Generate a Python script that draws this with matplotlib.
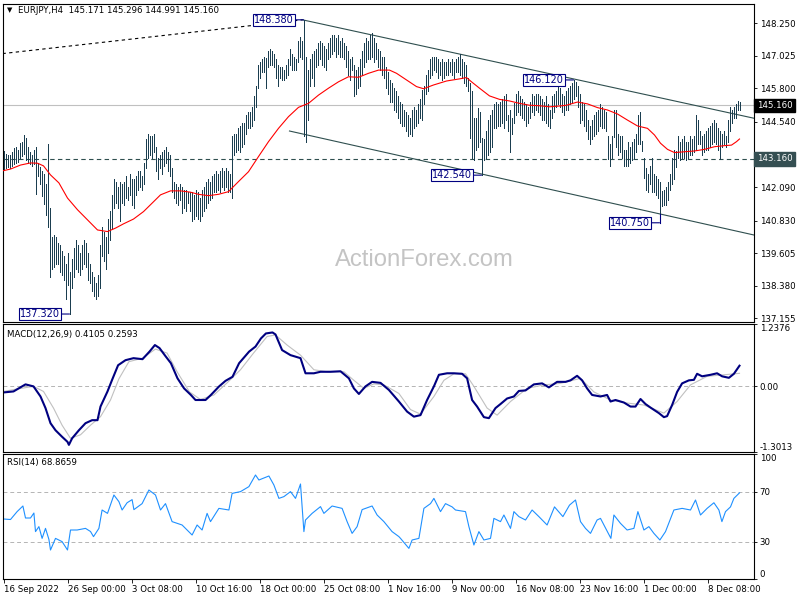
import matplotlib
matplotlib.use('Agg')
import matplotlib.pyplot as plt
import matplotlib.transforms as mtransforms

plt.rcParams['font.family'] = ['DejaVu Sans']

symbol = 'EURJPY,H4'
last_ohlc = ['145.171', '145.296', '144.991', '145.160']

# H4 bar highs / lows, one per bar
hi = [
    143.45, 143.35, 143.30, 143.30, 143.40, 143.55, 143.60, 143.50, 143.75, 143.80,
    144.05, 143.95, 143.60, 143.40, 143.30, 143.50, 143.60, 143.00, 142.85, 142.70,
    142.60, 142.20, 143.70, 141.30, 140.20, 140.30, 140.20, 140.00, 139.90, 139.70,
    139.50, 139.20, 139.60, 138.90, 139.40, 139.80, 140.10, 139.90, 139.60, 139.90,
    140.10, 140.00, 139.60, 139.20, 138.90, 138.70, 138.50, 138.80, 139.90, 140.60,
    140.40, 140.20, 140.90, 141.20, 141.80, 142.40, 142.30, 142.10, 142.30, 142.20,
    142.30, 142.50, 142.10, 142.60, 142.40, 142.40, 142.50, 142.70, 142.70, 142.50,
    143.00, 143.90, 144.10, 144.00, 144.00, 144.10, 143.60, 143.20, 143.30, 143.40,
    143.50, 143.60, 143.40, 143.30, 142.80, 142.30, 142.20, 142.10, 142.20, 142.10,
    142.00, 142.00, 141.90, 141.90, 141.90, 141.80, 142.00, 141.90, 141.70, 142.00,
    142.10, 142.30, 142.40, 142.30, 142.50, 142.60, 142.70, 142.60, 142.70, 142.80,
    142.70, 142.80, 142.70, 142.60, 144.00, 144.10, 144.10, 144.30, 144.40, 144.50,
    144.50, 144.80, 144.90, 144.90, 145.10, 145.50, 145.90, 146.70, 146.80, 146.90,
    147.00, 146.95, 147.20, 147.30, 147.20, 147.10, 146.90, 146.70, 146.60, 146.60,
    146.50, 146.70, 146.90, 147.30, 147.10, 147.00, 146.90, 147.60, 147.75, 147.60,
    148.38, 147.00, 146.50, 146.90, 147.10, 147.20, 147.30, 147.50, 147.60, 147.50,
    147.40, 147.30, 147.50, 147.70, 147.80, 147.80, 147.70, 147.80, 147.60, 147.70,
    147.50, 147.40, 147.20, 146.90, 147.00, 146.70, 146.50, 146.60, 146.90, 147.20,
    147.50, 147.70, 147.60, 147.80, 147.90, 147.70, 147.50, 147.30, 147.20, 147.00,
    147.00, 146.60, 146.40, 146.10, 146.00, 145.80, 145.70, 145.50, 145.30, 145.20,
    145.00, 144.90, 144.80, 144.70, 145.00, 145.10, 145.00, 145.20, 145.40, 145.75,
    145.90, 146.30, 146.50, 146.90, 147.00, 147.00, 147.00, 146.90, 146.80, 146.90,
    146.80, 146.80, 146.90, 146.80, 146.90, 146.80, 146.90, 147.00, 147.10, 146.90,
    146.80, 146.70, 146.20, 146.00, 145.70, 144.70, 144.70, 145.05, 144.90, 143.95,
    143.90, 144.20, 144.60, 144.80, 145.00, 145.20, 145.30, 145.20, 145.30, 145.40,
    145.50, 145.60, 144.80, 145.00, 144.70, 145.24, 145.60, 145.70, 145.50, 145.40,
    145.30, 145.20, 145.10, 145.30, 145.60, 145.50, 145.60, 145.60, 145.50, 145.40,
    145.30, 145.50, 145.20, 145.00, 145.50, 145.60, 145.70, 145.90, 145.80, 145.60,
    145.50, 145.70, 145.80, 145.90, 146.00, 146.12, 146.05, 145.90, 145.60, 145.30,
    145.20, 145.00, 144.60, 144.40, 144.60, 144.80, 144.90, 145.00, 145.20, 145.10,
    145.00, 144.90, 144.00, 143.70, 144.00, 145.00, 145.00, 144.10, 144.00, 144.00,
    143.50, 143.50, 143.80, 143.60, 143.80, 143.90, 144.10, 144.80, 144.90, 143.84,
    143.20, 142.80, 142.60, 142.90, 143.20, 142.60, 142.50, 142.40, 142.30, 141.95,
    142.00, 142.10, 142.30, 142.60, 143.20, 143.50, 143.46, 144.00, 143.80, 143.90,
    144.00, 143.80, 143.80, 144.00, 143.90, 144.00, 144.80, 144.60, 144.20, 144.00,
    144.10, 144.20, 144.30, 144.40, 144.50, 144.60, 144.50, 144.30, 144.20, 144.10,
    144.20, 144.00, 144.60, 145.10, 145.00, 145.10, 145.20, 145.33, 145.296,
]
lo = [
    142.75, 142.80, 142.85, 142.80, 142.90, 142.95, 143.00, 143.05, 143.20, 143.25,
    143.35, 143.10, 143.00, 142.95, 142.90, 142.95, 141.85, 142.50, 142.20, 141.75,
    141.45, 141.05, 140.60, 138.70, 139.00, 139.10, 139.20, 139.20, 138.90, 138.80,
    138.60, 137.90, 138.40, 137.32, 138.30, 138.70, 139.00, 138.90, 138.80, 139.00,
    139.20, 139.10, 138.60, 138.50, 138.20, 138.00, 137.90, 138.00, 138.30, 139.50,
    139.30, 139.00, 139.60, 140.10, 140.50, 141.30, 141.50, 141.30, 140.80, 141.50,
    141.40, 141.70, 141.60, 141.80, 141.40, 141.30, 141.80, 142.00, 142.10, 142.00,
    142.20, 142.80, 143.20, 143.30, 143.20, 143.40, 142.70, 142.40, 142.80, 142.60,
    142.90, 143.00, 142.70, 142.50, 141.90, 141.70, 141.50, 141.40, 141.60, 141.10,
    141.30, 141.20, 141.50, 141.20, 140.80, 140.90, 141.00, 140.90, 140.80, 141.00,
    141.20, 141.30, 141.50, 141.60, 141.70, 141.90, 141.90, 142.00, 141.90, 142.10,
    142.00, 142.10, 141.90, 141.90, 141.70, 143.30, 143.40, 143.50, 143.40, 143.60,
    143.70, 144.10, 144.30, 144.30, 144.40, 144.60, 145.10, 145.80, 146.20, 146.40,
    146.40, 145.80, 146.60, 146.70, 146.70, 146.60, 146.20, 145.90, 146.20, 146.10,
    146.10, 146.20, 146.30, 146.70, 146.50, 146.50, 146.50, 146.80, 147.00, 146.90,
    144.00, 143.80, 144.60, 145.90, 146.20, 145.90, 146.60, 146.70, 146.90, 146.70,
    146.60, 146.50, 146.90, 147.00, 147.10, 147.20, 147.00, 147.10, 147.00, 147.00,
    146.90, 146.60, 146.30, 146.10, 146.50, 145.50, 145.60, 145.80, 145.90, 146.30,
    146.60, 146.80, 146.90, 146.90, 147.00, 146.80, 146.90, 146.60, 146.50, 146.30,
    146.20, 145.80, 145.60, 145.30, 145.30, 145.00, 144.90, 144.70, 144.50, 144.40,
    144.40, 144.20, 144.00, 144.10, 144.00, 144.30, 144.40, 144.50, 144.70, 144.60,
    145.20, 145.60, 145.70, 146.20, 146.30, 146.50, 146.40, 146.20, 146.30, 146.10,
    146.20, 146.30, 146.30, 146.40, 146.30, 146.20, 146.40, 146.40, 146.30, 146.20,
    146.00, 145.90, 145.70, 143.95, 143.20, 143.10, 143.50, 143.60, 143.80, 142.54,
    143.10, 143.20, 143.30, 143.40, 143.60, 144.30, 144.30, 144.40, 144.40, 144.50,
    144.30, 144.60, 144.20, 143.40, 144.10, 144.50, 144.80, 144.90, 144.80, 144.70,
    144.60, 144.40, 144.50, 144.70, 144.90, 144.80, 145.00, 144.90, 144.80, 144.60,
    144.60, 144.50, 144.40, 144.30, 144.70, 144.90, 145.10, 145.20, 145.10, 144.90,
    144.80, 145.00, 145.00, 145.20, 145.30, 145.40, 145.50, 145.10, 144.50, 144.60,
    144.40, 144.20, 143.90, 143.70, 143.90, 144.00, 144.10, 144.20, 144.40, 144.30,
    144.30, 144.20, 143.16, 142.90, 143.20, 143.96, 143.60, 143.30, 143.40, 143.20,
    142.90, 142.90, 142.90, 143.00, 143.10, 143.20, 143.40, 143.70, 143.70, 143.46,
    142.43, 142.00, 141.90, 142.20, 141.90, 141.90, 141.80, 141.70, 141.08, 141.38,
    141.40, 141.40, 141.60, 142.00, 142.20, 142.40, 142.83, 143.20, 143.10, 143.20,
    143.20, 143.10, 143.20, 143.30, 143.30, 143.40, 143.50, 143.70, 143.70, 143.30,
    143.40, 143.50, 143.50, 143.60, 143.70, 143.80, 143.70, 143.50, 143.15, 143.60,
    143.70, 143.60, 143.80, 144.20, 144.50, 144.70, 144.70, 144.98, 144.991,
]

# moving average (red line)
ma_idx = [0, 3.5, 8.5, 13.5, 17, 20, 23.5, 27.7, 32, 37, 42, 47, 52, 56, 60, 65, 70, 75,
          78.5, 83.5, 88.5, 93.5, 97.5, 102.5, 107.5, 112.5, 117.5, 122.5, 127.5, 132.5,
          137.5, 142.5, 147.5, 152.5, 157.5, 162.5, 167.5, 172.5, 177.5, 182.5, 187.5,
          193, 196.5, 201.5, 206.5, 210, 215, 221.5, 228, 231.5, 234, 238, 243, 248, 253,
          258, 263, 268, 273, 278, 281.5, 287, 292, 297, 302, 307, 312, 317, 322, 325.5,
          328.5, 332, 335.5, 340.5, 345.5, 350.5, 355.5, 360.5, 364, 366.5, 368]
ma_val = [142.71, 142.77, 142.92, 143.00, 142.99, 142.89, 142.55, 142.25, 141.68, 141.24,
          140.86, 140.48, 140.42, 140.55, 140.71, 140.89, 141.17, 141.54, 141.80, 141.95,
          141.95, 141.90, 141.82, 141.77, 141.82, 141.92, 142.30, 142.67, 143.24, 143.80,
          144.30, 144.74, 145.09, 145.24, 145.55, 145.81, 146.05, 146.24, 146.22, 146.37,
          146.49, 146.49, 146.37, 146.12, 145.87, 145.79, 145.93, 146.08, 146.16, 146.21,
          146.05, 145.81, 145.52, 145.39, 145.33, 145.24, 145.17, 145.15, 145.11, 145.14,
          145.17, 145.29, 145.22, 145.08, 144.99, 144.84, 144.61, 144.39, 144.30, 144.05,
          143.74, 143.51, 143.39, 143.42, 143.45, 143.51, 143.61, 143.65, 143.67, 143.80,
          143.90]

# trend lines (bar index, price)
dotted_idx = [-0.5, 149.5]
dotted_px = [147.11, 148.38]
upper_idx = [149.5, 375.25]
upper_px = [148.38, 144.68]
lower_idx = [143, 375.25]
lower_px = [144.20, 140.29]
support_level = 143.160
last_price = 145.160

mark_idx = [150, 285, 239, 328, 33]
mark_px = [148.38, 146.12, 142.54, 140.75, 137.32]
mark_txt = ['148.380', '146.120', '142.540', '140.750', '137.320']

price_ticks = [148.250, 147.025, 145.800, 144.540, 142.090, 140.830, 139.605, 138.380, 137.155]

# MACD main / signal
macd_idx = [0, 5, 11, 15, 18.5, 21, 23.5, 26, 29.3, 32, 32.7, 34.3, 37.7, 41, 44.3, 47, 48.5,
            52, 54.3, 57.3, 61, 65, 69.5, 73, 75.7, 78, 81, 83.7, 87, 90.3, 93.7, 96, 101,
            103.7, 107.8, 111, 114.5, 117.8, 122.8, 126, 128.7, 131.2, 134.5, 136, 139.3,
            143.5, 148.5, 151, 155.2, 158.5, 163.5, 168.5, 172.7, 175.2, 177.7, 181, 184.3,
            188.5, 192.7, 197.7, 201.8, 205.2, 208.5, 211.8, 215.2, 217.7, 221.8, 225.2,
            229.3, 231.8, 234.3, 236.8, 240.2, 242.7, 246, 248.5, 251.8, 255.2, 257.7, 261,
            265.2, 269.3, 272.7, 276.8, 281, 283.5, 286.8, 289.3, 291.8, 294.3, 298.5,
            301.8, 303.5, 306, 310.2, 313.5, 316, 318.5, 321, 323.5, 327.7, 330.2, 331.8,
            334.3, 336.8, 339.3, 342.7, 345.2, 346.8, 349.3, 353.5, 356.8, 359.3, 362.7,
            365.2, 368]
macd_val = [-0.12, -0.10, 0.04, 0.00, -0.20, -0.43, -0.73, -0.87, -1.00, -1.10, -1.16, -1.03,
            -0.87, -0.73, -0.67, -0.67, -0.40, -0.10, 0.13, 0.42, 0.52, 0.56, 0.54, 0.69,
            0.82, 0.76, 0.60, 0.46, 0.16, -0.04, -0.17, -0.27, -0.27, -0.17, 0.00, 0.11,
            0.19, 0.46, 0.69, 0.79, 0.95, 1.05, 1.07, 1.03, 0.72, 0.62, 0.56, 0.26, 0.26,
            0.29, 0.29, 0.30, 0.16, -0.04, -0.15, 0.00, 0.09, 0.07, -0.07, -0.30, -0.50,
            -0.60, -0.57, -0.27, 0.00, 0.23, 0.26, 0.26, 0.25, 0.16, -0.27, -0.40, -0.61,
            -0.63, -0.43, -0.35, -0.24, -0.20, -0.09, -0.08, 0.04, 0.06, -0.02, 0.09, 0.09,
            0.12, 0.21, 0.12, -0.04, -0.17, -0.20, -0.17, -0.30, -0.27, -0.32, -0.40, -0.40,
            -0.25, -0.35, -0.42, -0.53, -0.61, -0.59, -0.37, -0.11, 0.06, 0.12, 0.13, 0.25,
            0.20, 0.23, 0.26, 0.20, 0.17, 0.25, 0.4105]
sig_idx = [0, 7, 15, 20, 25, 29.3, 33.5, 38.5, 43.5, 48.5, 53.5, 57.7, 62.7, 69.5, 76, 81.8,
           86.8, 93, 98.5, 105.2, 111.8, 118.5, 125, 131.8, 136, 141.8, 148.5, 155.2, 161.8,
           170.2, 175.2, 180.2, 185.2, 190.2, 197.7, 203.5, 208.5, 215.2, 220.2, 225.2, 231,
           235.2, 241.8, 246.8, 253.5, 261.8, 270.2, 278.5, 288.5, 295.2, 303.5, 311.8, 320.2,
           330.2, 336.8, 343.5, 351.8, 360.2, 368]
sig_val = [-0.10, -0.05, 0.00, -0.10, -0.43, -0.77, -1.03, -0.96, -0.77, -0.60, -0.27, 0.15,
           0.49, 0.56, 0.74, 0.66, 0.29, -0.11, -0.26, -0.17, 0.07, 0.33, 0.66, 0.99, 1.02,
           0.82, 0.62, 0.33, 0.29, 0.29, 0.12, -0.04, 0.05, 0.03, -0.14, -0.46, -0.55, -0.20,
           0.12, 0.25, 0.25, 0.00, -0.43, -0.57, -0.30, -0.04, 0.03, 0.06, 0.16, -0.11, -0.27,
           -0.33, -0.37, -0.53, -0.30, 0.03, 0.20, 0.23, 0.2593]

# RSI(14)
rsi_idx = [0, 3.5, 6.8, 9.7, 11, 13.5, 15.2, 16, 17.7, 19.3, 21, 22.7, 23.5, 26, 29.3, 32,
           33.5, 36.8, 41, 43.5, 45, 47.7, 49.3, 52, 55.2, 57.7, 59.3, 61.8, 64.3, 65.2, 69.3,
           72.7, 76, 78.5, 81, 84.3, 89.3, 94.3, 96.8, 99.3, 101.8, 103.5, 107.7, 112.7,
           114.3, 118.5, 122.7, 126, 127.7, 132.7, 135.2, 137.7, 140.2, 143.5, 146, 148.5,
           150.2, 151, 154.3, 158.5, 160.2, 164.3, 169.3, 171.8, 174.3, 176.8, 179.3, 184.3,
           186.8, 190.2, 194.3, 197.7, 198.5, 202.7, 204.3, 207.7, 210.2, 213.5, 215.2,
           218.5, 221, 224.3, 226, 231, 232.7, 235.2, 237.7, 240.2, 243.5, 245.2, 248.5,
           250.2, 253.5, 255.2, 257.7, 261, 264.3, 267.7, 271.8, 275.5, 279.7, 283, 286,
           288.5, 291, 293.5, 296.8, 298.5, 303.7, 305.2, 308.5, 311.8, 315.2, 317.2, 320.2,
           322.7, 325.2, 328.2, 331, 335.2, 339.3, 343.5, 346, 348.5, 351.8, 355.2, 357.7,
           359.2, 361, 363.5, 365.2, 368]
rsi_val = [48.0, 47.6, 53.9, 58.4, 48.8, 48.8, 52.8, 37.9, 41.9, 32.5, 40.5, 31.7, 23.2, 32.5,
           29.9, 23.2, 39.2, 39.2, 40.5, 38.0, 33.9, 40.5, 55.2, 52.5, 67.2, 61.9, 55.2, 61.0,
           63.5, 55.5, 60.3, 71.2, 67.2, 55.2, 60.3, 45.9, 43.2, 35.2, 43.2, 39.2, 52.5, 45.9,
           56.5, 55.2, 68.5, 69.9, 73.9, 83.2, 79.2, 82.4, 75.2, 64.5, 65.9, 69.9, 64.5, 76.0,
           37.9, 47.2, 52.5, 57.9, 52.5, 58.4, 56.5, 45.9, 36.5, 41.9, 55.5, 58.4, 51.2, 45.9,
           37.9, 33.9, 32.5, 24.5, 31.2, 32.5, 56.5, 60.3, 64.5, 53.9, 60.3, 57.7, 55.2, 53.9,
           41.9, 27.2, 37.9, 31.2, 32.5, 48.5, 45.9, 51.2, 40.5, 53.9, 49.9, 47.2, 55.2, 49.9,
           43.2, 57.7, 49.9, 59.1, 63.2, 45.9, 40.5, 36.5, 47.2, 48.5, 32.5, 51.2, 44.5, 39.2,
           40.5, 53.9, 39.2, 41.9, 36.5, 31.2, 37.9, 55.2, 56.5, 55.2, 63.2, 51.2, 56.5, 61.0,
           55.2, 45.9, 53.9, 57.7, 64.5, 68.9]

date_idx = [0, 32, 64, 96, 128, 160, 192, 224, 256, 288, 320, 352]
date_lbl = ['16 Sep 2022', '26 Sep 00:00', '3 Oct 08:00', '10 Oct 16:00', '18 Oct 00:00',
            '25 Oct 08:00', '1 Nov 16:00', '9 Nov 00:00', '16 Nov 08:00', '23 Nov 16:00',
            '1 Dec 00:00', '8 Dec 08:00']

W, H = 800, 600
fig = plt.figure(figsize=(8, 6), dpi=100)
fig.patch.set_facecolor('white')

def px_axes(top, bottom):
    return fig.add_axes([2.5 / W, 1 - bottom / H, 751.5 / W, (bottom - top) / H])

ax1 = px_axes(4, 322)
ax2 = px_axes(324, 452)
ax3 = px_axes(454, 579)

FS = 6.2
for a in (ax1, ax2, ax3):
    a.set_xlim(-0.5, 375.25)
    for s in a.spines.values():
        s.set_linewidth(0.8)
        s.set_color('black')
    a.yaxis.tick_right()
    a.tick_params(axis='y', length=2, width=0.6, pad=2, labelsize=FS)
    a.set_xticks([])

bar_c = '#1b3e50'
trend_c = '#2f4f4f'
xs = list(range(len(hi)))

# ---- price panel
ax1.set_ylim(137.02, 148.975)
ax1.axhline(last_price, color='#c0c0c0', lw=0.8, zorder=1)
ax1.axhline(support_level, color=trend_c, lw=0.8, ls=(0, (4, 3)), zorder=1)
ax1.vlines(xs, lo, hi, color=bar_c, lw=0.6, antialiased=False, zorder=3)
ax1.plot(ma_idx, ma_val, color='red', lw=0.8, zorder=4)
ax1.plot(dotted_idx, dotted_px, color='black', lw=0.8, ls=(0, (3, 3)), zorder=2)
ax1.plot(upper_idx, upper_px, color=trend_c, lw=0.8, zorder=2)
ax1.plot(lower_idx, lower_px, color=trend_c, lw=0.8, zorder=2)
ax1.set_yticks(price_ticks)
ax1.set_yticklabels(['%.3f' % v for v in price_ticks])

for i, p, t in zip(mark_idx, mark_px, mark_txt):
    ax1.annotate(t, xy=(i, p), xytext=(-7, 0), textcoords='offset points',
                 ha='right', va='center', fontsize=7, color='#000080', zorder=6,
                 bbox=dict(boxstyle='square,pad=0.12', fc='white', ec='#000080', lw=0.8),
                 arrowprops=dict(arrowstyle='-', color='#000080', lw=0.8,
                                 shrinkA=0, shrinkB=0))
    if lo[i] > p:
        ax1.plot([i, i], [p, lo[i]], color='#000080', lw=0.8, zorder=5)

tr1 = mtransforms.blended_transform_factory(ax1.transAxes, ax1.transData)
ax1.text(1.0035, last_price, '145.160', transform=tr1, color='white', fontsize=FS,
         ha='left', va='center', zorder=10, clip_on=False,
         bbox=dict(boxstyle='square,pad=0.28', fc='black', ec='black'))
ax1.text(1.0035, support_level, '143.160', transform=tr1, color='white', fontsize=FS,
         ha='left', va='center', zorder=10, clip_on=False,
         bbox=dict(boxstyle='square,pad=0.28', fc='#354f52', ec='#354f52'))

fig.text(424 / W, 1 - 260 / H, 'ActionForex.com', fontsize=17.2, color='#c4c4c4',
         family=['Liberation Sans', 'DejaVu Sans'], ha='center', va='center', zorder=0)
fig.text(7 / W, 1 - 10.5 / H, '\u25bc', fontsize=5, ha='left', va='center')
fig.text(18 / W, 1 - 10.5 / H, symbol + '  ' + ' '.join(last_ohlc), fontsize=FS,
         ha='left', va='center')

# ---- MACD panel
ax2.set_ylim(-1.3013, 1.2376)
ax2.axhline(0, color='#b4b4b4', lw=0.7, ls=(0, (4, 3)))
ax2.plot(sig_idx, sig_val, color='#c0c0c0', lw=0.8)
ax2.plot(macd_idx, macd_val, color='#000080', lw=1.5)
ax2.set_yticks([1.2376, 0.0, -1.3013])
ax2.set_yticklabels(['1.2376', '0.00', '-1.3013'])
lbls = ax2.get_yticklabels()
lbls[0].set_va('top')
lbls[2].set_va('bottom')
fig.text(7 / W, 1 - 334 / H, 'MACD(12,26,9) 0.4105 0.2593', fontsize=FS, ha='left',
         va='center')

# ---- RSI panel
ax3.set_ylim(0, 100)
for lvl in (70, 30):
    ax3.axhline(lvl, color='#b4b4b4', lw=0.7, ls=(0, (4, 3)))
ax3.plot(rsi_idx, rsi_val, color='#1e90ff', lw=0.8)
ax3.set_yticks([100, 70, 30, 0])
ax3.set_yticklabels(['100', '70', '30', '0'])
lbls = ax3.get_yticklabels()
lbls[0].set_va('top')
lbls[3].set_va('bottom')
fig.text(7 / W, 1 - 463 / H, 'RSI(14) 68.8659', fontsize=FS, ha='left', va='center')

ax3.set_xticks(date_idx)
ax3.set_xticklabels(date_lbl, ha='left')
ax3.tick_params(axis='x', length=3, width=0.6, pad=1.5, labelsize=FS)

fig.savefig('out.png', dpi=100, facecolor='white')
